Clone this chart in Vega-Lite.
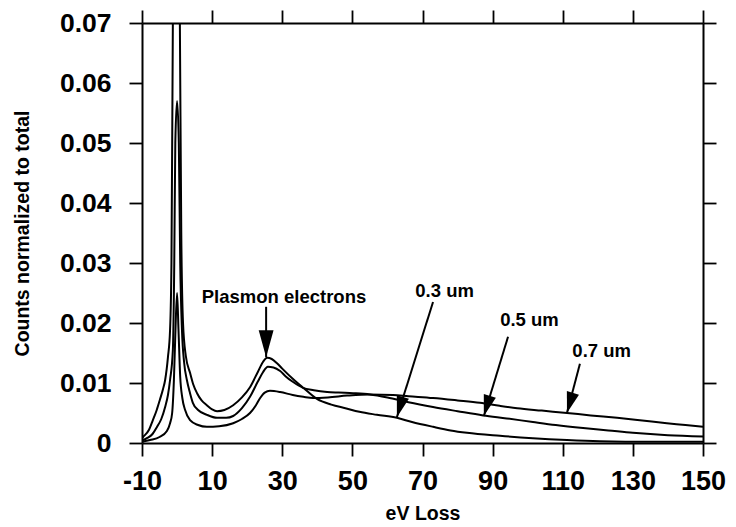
{
  "$schema": "https://vega.github.io/schema/vega-lite/v6.json",
  "autosize": {"type": "none"},
  "padding": {"left": 142, "top": 23, "right": 33, "bottom": 84},
  "width": 561,
  "height": 420,
  "background": "white",
  "config": {
    "view": {"stroke": null},
    "font": "Liberation Sans",
    "axis": {
      "domainColor": "black", "domainWidth": 2, "tickColor": "black", "tickWidth": 1.8, "tickSize": 13,
      "grid": false, "labelColor": "black", "titleColor": "black",
      "labelFont": "Liberation Sans", "titleFont": "Liberation Sans",
      "labelFontWeight": "bold", "titleFontWeight": "bold"
    }
  },
  "datasets": {
    "curves": [
      {"sample": "0.3 um", "eV": -10, "counts": 0.0008},
      {"sample": "0.3 um", "eV": -9.7, "counts": 0.001},
      {"sample": "0.3 um", "eV": -8, "counts": 0.0022},
      {"sample": "0.3 um", "eV": -6.9, "counts": 0.0038},
      {"sample": "0.3 um", "eV": -5.8, "counts": 0.0055},
      {"sample": "0.3 um", "eV": -4.9, "counts": 0.0072},
      {"sample": "0.3 um", "eV": -4, "counts": 0.009},
      {"sample": "0.3 um", "eV": -3.4, "counts": 0.0105},
      {"sample": "0.3 um", "eV": -2.6, "counts": 0.0143},
      {"sample": "0.3 um", "eV": -2.0, "counts": 0.0188},
      {"sample": "0.3 um", "eV": -1.6, "counts": 0.03},
      {"sample": "0.3 um", "eV": -1.2, "counts": 0.07},
      {"sample": "0.3 um", "eV": -0.3, "counts": 0.12},
      {"sample": "0.3 um", "eV": 0.8, "counts": 0.07},
      {"sample": "0.3 um", "eV": 1.2, "counts": 0.035},
      {"sample": "0.3 um", "eV": 1.7, "counts": 0.02},
      {"sample": "0.3 um", "eV": 2.5, "counts": 0.0145},
      {"sample": "0.3 um", "eV": 3.7, "counts": 0.0117},
      {"sample": "0.3 um", "eV": 4.6, "counts": 0.0098},
      {"sample": "0.3 um", "eV": 5.7, "counts": 0.0083},
      {"sample": "0.3 um", "eV": 7, "counts": 0.0071},
      {"sample": "0.3 um", "eV": 8.5, "counts": 0.0063},
      {"sample": "0.3 um", "eV": 10, "counts": 0.0056},
      {"sample": "0.3 um", "eV": 11.4, "counts": 0.0053},
      {"sample": "0.3 um", "eV": 13.5, "counts": 0.0055},
      {"sample": "0.3 um", "eV": 16, "counts": 0.0063},
      {"sample": "0.3 um", "eV": 18.5, "counts": 0.0076},
      {"sample": "0.3 um", "eV": 20.8, "counts": 0.0093},
      {"sample": "0.3 um", "eV": 23, "counts": 0.0118},
      {"sample": "0.3 um", "eV": 24.5, "counts": 0.0135},
      {"sample": "0.3 um", "eV": 25.7, "counts": 0.0142},
      {"sample": "0.3 um", "eV": 27, "counts": 0.014},
      {"sample": "0.3 um", "eV": 28.5, "counts": 0.0133},
      {"sample": "0.3 um", "eV": 30, "counts": 0.0124},
      {"sample": "0.3 um", "eV": 33, "counts": 0.0107},
      {"sample": "0.3 um", "eV": 36, "counts": 0.0092},
      {"sample": "0.3 um", "eV": 40, "counts": 0.0073},
      {"sample": "0.3 um", "eV": 44, "counts": 0.0064},
      {"sample": "0.3 um", "eV": 48, "counts": 0.0058},
      {"sample": "0.3 um", "eV": 52, "counts": 0.0052},
      {"sample": "0.3 um", "eV": 57, "counts": 0.0047},
      {"sample": "0.3 um", "eV": 62.7, "counts": 0.0042},
      {"sample": "0.3 um", "eV": 67, "counts": 0.0035},
      {"sample": "0.3 um", "eV": 73, "counts": 0.0027},
      {"sample": "0.3 um", "eV": 78, "counts": 0.0021},
      {"sample": "0.3 um", "eV": 82.7, "counts": 0.0017},
      {"sample": "0.3 um", "eV": 92.1, "counts": 0.0012},
      {"sample": "0.3 um", "eV": 101.5, "counts": 0.0008},
      {"sample": "0.3 um", "eV": 111.2, "counts": 0.0005},
      {"sample": "0.3 um", "eV": 120.6, "counts": 0.0003},
      {"sample": "0.3 um", "eV": 135, "counts": 0.0002},
      {"sample": "0.3 um", "eV": 150, "counts": 0.0002},

      {"sample": "0.5 um", "eV": -10, "counts": 0.0004},
      {"sample": "0.5 um", "eV": -8.6, "counts": 0.0008},
      {"sample": "0.5 um", "eV": -7, "counts": 0.0015},
      {"sample": "0.5 um", "eV": -5.7, "counts": 0.0027},
      {"sample": "0.5 um", "eV": -4.5, "counts": 0.004},
      {"sample": "0.5 um", "eV": -3.4, "counts": 0.006},
      {"sample": "0.5 um", "eV": -2.6, "counts": 0.008},
      {"sample": "0.5 um", "eV": -2, "counts": 0.0105},
      {"sample": "0.5 um", "eV": -1.2, "counts": 0.0155},
      {"sample": "0.5 um", "eV": -0.8, "counts": 0.03},
      {"sample": "0.5 um", "eV": -0.5, "counts": 0.05},
      {"sample": "0.5 um", "eV": 0, "counts": 0.057},
      {"sample": "0.5 um", "eV": 0.5, "counts": 0.05},
      {"sample": "0.5 um", "eV": 0.9, "counts": 0.03},
      {"sample": "0.5 um", "eV": 1.4, "counts": 0.0188},
      {"sample": "0.5 um", "eV": 2, "counts": 0.0135},
      {"sample": "0.5 um", "eV": 2.8, "counts": 0.0105},
      {"sample": "0.5 um", "eV": 3.7, "counts": 0.0083},
      {"sample": "0.5 um", "eV": 4.5, "counts": 0.0067},
      {"sample": "0.5 um", "eV": 6, "counts": 0.0055},
      {"sample": "0.5 um", "eV": 8.5, "counts": 0.0047},
      {"sample": "0.5 um", "eV": 11.4, "counts": 0.0042},
      {"sample": "0.5 um", "eV": 14, "counts": 0.0042},
      {"sample": "0.5 um", "eV": 16, "counts": 0.0045},
      {"sample": "0.5 um", "eV": 18.5, "counts": 0.0058},
      {"sample": "0.5 um", "eV": 20.8, "counts": 0.0077},
      {"sample": "0.5 um", "eV": 23, "counts": 0.0102},
      {"sample": "0.5 um", "eV": 24.5, "counts": 0.0118},
      {"sample": "0.5 um", "eV": 25.9, "counts": 0.0127},
      {"sample": "0.5 um", "eV": 27.5, "counts": 0.0126},
      {"sample": "0.5 um", "eV": 29.4, "counts": 0.012},
      {"sample": "0.5 um", "eV": 31, "counts": 0.0111},
      {"sample": "0.5 um", "eV": 33, "counts": 0.0102},
      {"sample": "0.5 um", "eV": 35.9, "counts": 0.0092},
      {"sample": "0.5 um", "eV": 39, "counts": 0.0088},
      {"sample": "0.5 um", "eV": 42.8, "counts": 0.0085},
      {"sample": "0.5 um", "eV": 46, "counts": 0.0084},
      {"sample": "0.5 um", "eV": 50.2, "counts": 0.0083},
      {"sample": "0.5 um", "eV": 55, "counts": 0.0081},
      {"sample": "0.5 um", "eV": 60, "counts": 0.0076},
      {"sample": "0.5 um", "eV": 66, "counts": 0.0068},
      {"sample": "0.5 um", "eV": 73, "counts": 0.006},
      {"sample": "0.5 um", "eV": 80, "counts": 0.0053},
      {"sample": "0.5 um", "eV": 87.3, "counts": 0.0046},
      {"sample": "0.5 um", "eV": 94, "counts": 0.0041},
      {"sample": "0.5 um", "eV": 101.5, "counts": 0.0035},
      {"sample": "0.5 um", "eV": 108, "counts": 0.003},
      {"sample": "0.5 um", "eV": 115.8, "counts": 0.0025},
      {"sample": "0.5 um", "eV": 123, "counts": 0.0021},
      {"sample": "0.5 um", "eV": 130, "counts": 0.0017},
      {"sample": "0.5 um", "eV": 140, "counts": 0.0013},
      {"sample": "0.5 um", "eV": 150, "counts": 0.0011},

      {"sample": "0.7 um", "eV": -10, "counts": 0.0002},
      {"sample": "0.7 um", "eV": -7.7, "counts": 0.0005},
      {"sample": "0.7 um", "eV": -5, "counts": 0.001},
      {"sample": "0.7 um", "eV": -2.9, "counts": 0.002},
      {"sample": "0.7 um", "eV": -2, "counts": 0.0033},
      {"sample": "0.7 um", "eV": -1.4, "counts": 0.005},
      {"sample": "0.7 um", "eV": -0.9, "counts": 0.0105},
      {"sample": "0.7 um", "eV": -0.5, "counts": 0.018},
      {"sample": "0.7 um", "eV": 0, "counts": 0.025},
      {"sample": "0.7 um", "eV": 0.4, "counts": 0.019},
      {"sample": "0.7 um", "eV": 0.9, "counts": 0.011},
      {"sample": "0.7 um", "eV": 1.5, "counts": 0.0075},
      {"sample": "0.7 um", "eV": 2.3, "counts": 0.0055},
      {"sample": "0.7 um", "eV": 3.7, "counts": 0.0038},
      {"sample": "0.7 um", "eV": 6, "counts": 0.003},
      {"sample": "0.7 um", "eV": 8.5, "counts": 0.0027},
      {"sample": "0.7 um", "eV": 12, "counts": 0.0028},
      {"sample": "0.7 um", "eV": 16, "counts": 0.0033},
      {"sample": "0.7 um", "eV": 18.5, "counts": 0.004},
      {"sample": "0.7 um", "eV": 20.8, "counts": 0.005},
      {"sample": "0.7 um", "eV": 22.5, "counts": 0.0063},
      {"sample": "0.7 um", "eV": 23.7, "counts": 0.0075},
      {"sample": "0.7 um", "eV": 25, "counts": 0.0084},
      {"sample": "0.7 um", "eV": 26.5, "counts": 0.0087},
      {"sample": "0.7 um", "eV": 29.4, "counts": 0.0085},
      {"sample": "0.7 um", "eV": 33, "counts": 0.008},
      {"sample": "0.7 um", "eV": 36, "counts": 0.0077},
      {"sample": "0.7 um", "eV": 38.8, "counts": 0.0075},
      {"sample": "0.7 um", "eV": 43, "counts": 0.0076},
      {"sample": "0.7 um", "eV": 48.5, "counts": 0.0079},
      {"sample": "0.7 um", "eV": 55, "counts": 0.0081},
      {"sample": "0.7 um", "eV": 61.6, "counts": 0.008},
      {"sample": "0.7 um", "eV": 66, "counts": 0.0078},
      {"sample": "0.7 um", "eV": 73, "counts": 0.0075},
      {"sample": "0.7 um", "eV": 80, "counts": 0.0071},
      {"sample": "0.7 um", "eV": 86.4, "counts": 0.0067},
      {"sample": "0.7 um", "eV": 92, "counts": 0.0062},
      {"sample": "0.7 um", "eV": 97, "counts": 0.0058},
      {"sample": "0.7 um", "eV": 104, "counts": 0.0054},
      {"sample": "0.7 um", "eV": 111.2, "counts": 0.005},
      {"sample": "0.7 um", "eV": 118, "counts": 0.0046},
      {"sample": "0.7 um", "eV": 125.5, "counts": 0.0042},
      {"sample": "0.7 um", "eV": 132, "counts": 0.0038},
      {"sample": "0.7 um", "eV": 139.7, "counts": 0.0033},
      {"sample": "0.7 um", "eV": 145, "counts": 0.003},
      {"sample": "0.7 um", "eV": 150, "counts": 0.0027}
    ],
    "notes": [
      {"label": "Plasmon electrons", "kind": "plasmon", "tx": 30.5, "ty": 0.0243, "x0": 25.4, "y0": 0.0227, "x1": 25.4, "y1": 0.0143},
      {"label": "0.3 um", "kind": "thickness", "tx": 76.3, "ty": 0.0253, "x0": 73.0, "y0": 0.0235, "x1": 62.7, "y1": 0.0043},
      {"label": "0.5 um", "kind": "thickness", "tx": 100.5, "ty": 0.0205, "x0": 94.4, "y0": 0.0177, "x1": 87.5, "y1": 0.0045},
      {"label": "0.7 um", "kind": "thickness", "tx": 121.1, "ty": 0.0153, "x0": 114.9, "y0": 0.0132, "x1": 111.2, "y1": 0.005}
    ]
  },
  "layer": [
    {
      "data": {"name": "curves"},
      "mark": {"type": "line", "clip": true, "color": "black", "strokeWidth": 2, "interpolate": "monotone"},
      "encoding": {
        "x": {
          "field": "eV", "type": "quantitative",
          "scale": {"domain": [-10, 150], "nice": false, "zero": false},
          "axis": {
            "orient": "bottom", "values": [-10, 10, 30, 50, 70, 90, 110, 130, 150],
            "labelExpr": "'' + datum.value",
            "title": "eV Loss", "labelFontSize": 27, "labelPadding": 12,
            "labelFlush": false, "labelOverlap": false,
            "titleFontSize": 19.5, "titleX": 280.5, "titleY": 70, "titleBaseline": "middle", "titleAlign": "center"
          }
        },
        "y": {
          "field": "counts", "type": "quantitative",
          "scale": {"domain": [0, 0.07], "nice": false},
          "axis": {
            "orient": "left", "values": [0, 0.01, 0.02, 0.03, 0.04, 0.05, 0.06, 0.07],
            "format": ".2~f", "title": "Counts normalized to total",
            "labelFontSize": 26.5, "labelPadding": 18, "labelFlush": false, "labelOverlap": false,
            "titleFontSize": 19.5, "titleX": -120, "titleY": 210, "titleAngle": -90,
            "titleBaseline": "middle", "titleAlign": "center"
          }
        },
        "detail": {"field": "sample", "type": "nominal"}
      }
    },
    {
      "data": {"name": "notes"},
      "mark": {"type": "text", "fontWeight": "bold", "fontSize": 18.5, "align": "center", "baseline": "middle", "color": "black"},
      "encoding": {
        "x": {
          "field": "tx", "type": "quantitative",
          "scale": {"domain": [-10, 150], "nice": false, "zero": false},
          "axis": {"orient": "top", "labels": false, "title": null, "values": [-10, 10, 30, 50, 70, 90, 110, 130, 150]}
        },
        "y": {
          "field": "ty", "type": "quantitative",
          "scale": {"domain": [0, 0.07], "nice": false},
          "axis": {"orient": "right", "labels": false, "title": null, "values": [0, 0.01, 0.02, 0.03, 0.04, 0.05, 0.06, 0.07]}
        },
        "text": {"field": "label"}
      }
    },
    {
      "data": {"name": "notes"},
      "mark": {"type": "rule", "color": "black", "strokeWidth": 2},
      "encoding": {
        "x": {"field": "x0", "type": "quantitative", "axis": null},
        "y": {"field": "y0", "type": "quantitative", "axis": null},
        "x2": {"field": "x1"},
        "y2": {"field": "y1"}
      }
    },
    {
      "data": {"name": "notes"},
      "transform": [{"filter": "datum.kind == 'plasmon'"}],
      "mark": {"type": "point", "shape": "M0,0L-0.55,-2L0.55,-2Z", "filled": true, "color": "black", "opacity": 1, "size": 729, "angle": 0, "strokeWidth": 0},
      "encoding": {
        "x": {"field": "x1", "type": "quantitative", "axis": null},
        "y": {"field": "y1", "type": "quantitative", "axis": null}
      }
    },
    {
      "data": {"name": "notes"},
      "transform": [{"filter": "datum.kind == 'thickness'"}],
      "mark": {"type": "point", "shape": "M0,0L-0.6,-2L0.6,-2Z", "filled": true, "color": "black", "opacity": 1, "size": 441, "angle": 16.5, "strokeWidth": 0},
      "encoding": {
        "x": {"field": "x1", "type": "quantitative", "axis": null},
        "y": {"field": "y1", "type": "quantitative", "axis": null}
      }
    }
  ],
  "resolve": {"axis": {"x": "independent", "y": "independent"}}
}
